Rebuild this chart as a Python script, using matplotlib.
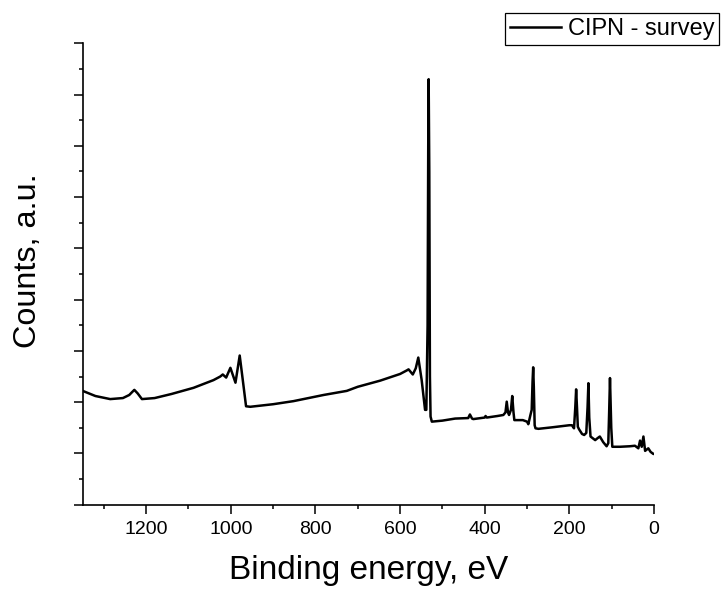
import matplotlib
matplotlib.use("Agg")
import matplotlib.pyplot as plt
from matplotlib.ticker import MultipleLocator, NullFormatter

plt.rcParams['font.family'] = ['Liberation Sans', 'DejaVu Sans']

# Binding energy (eV) and counts (a.u.)
energy = [1350, 1320, 1285, 1255, 1240, 1228, 1220, 1210, 1180, 1140, 1088, 1041,
          1025, 1019, 1011, 1001, 989, 979, 972, 964, 954, 900, 852, 781, 726, 700, 647,
          600, 584, 580, 570, 563, 557, 549, 541, 538, 535, 533.5, 532.5, 531, 529.5,
          528, 525, 500, 470, 439, 435, 430, 427, 400, 398, 395, 370, 356, 351, 348,
          345, 342.5, 338, 335, 332, 330, 310, 300, 297, 292, 289, 287, 285.5, 284,
          282, 280, 273, 240, 200, 194, 189, 186, 184, 182, 180, 177, 170, 165, 160,
          157, 155, 153, 150, 139, 133, 128, 120, 112, 108, 106, 104, 101, 98.5, 80,
          57, 45, 37, 33, 29, 25, 21, 13.5, 8, 1.5, 0]
counts = [2.22, 2.12, 2.06, 2.08, 2.14, 2.24, 2.17, 2.06, 2.08, 2.16, 2.28, 2.43,
          2.50, 2.54, 2.48, 2.67, 2.38, 2.91, 2.45, 1.92, 1.91, 1.96, 2.02, 2.14, 2.22, 2.30, 2.42,
          2.55, 2.62, 2.64, 2.54, 2.66, 2.87, 2.43, 1.85, 1.85, 3.5, 7.0, 8.30, 6.5, 2.5,
          1.72, 1.62, 1.64, 1.68, 1.69, 1.76, 1.68, 1.67, 1.70, 1.73, 1.70, 1.73, 1.75, 1.80, 2.01,
          1.80, 1.75, 1.85, 2.12, 1.80, 1.65, 1.65, 1.62, 1.57, 1.75, 1.85, 2.40, 2.68, 2.30,
          1.55, 1.49, 1.48, 1.51, 1.55, 1.55, 1.49, 1.90, 2.25, 1.90, 1.52, 1.47, 1.38, 1.36, 1.40,
          1.90, 2.37, 1.70, 1.33, 1.26, 1.30, 1.33, 1.22, 1.14, 1.20, 1.80, 2.47, 1.50, 1.13, 1.13,
          1.14, 1.15, 1.10, 1.25, 1.13, 1.33, 1.05, 1.10, 1.03, 0.99, 0.99]

series_label = "CIPN - survey"
x_label = "Binding energy, eV"
y_label = "Counts, a.u."

fig = plt.figure(figsize=(7.21, 5.92), dpi=100)
ax = fig.add_axes([82.7/721, 1 - 504.7/592, (654 - 82.7)/721, (504.7 - 43.3)/592])

ax.plot(energy, counts, color='black', lw=1.8, label=series_label)

ax.set_xlim(1350, 0)
ax.set_ylim(0, 9)

ax.xaxis.set_major_locator(MultipleLocator(200))
ax.xaxis.set_minor_locator(MultipleLocator(100))
ax.yaxis.set_major_locator(MultipleLocator(1))
ax.yaxis.set_minor_locator(MultipleLocator(0.5))
ax.yaxis.set_major_formatter(NullFormatter())

for s in ['top', 'right']:
    ax.spines[s].set_visible(False)
for s in ['left', 'bottom']:
    ax.spines[s].set_linewidth(1.2)

ax.tick_params(which='major', direction='out', length=6.5, width=1.1,
               labelsize=14, pad=5.5)
ax.tick_params(which='minor', direction='out', length=3.2, width=1.1)

ax.set_xlabel(x_label, fontsize=24)
ax.set_ylabel(y_label, fontsize=23.3)
ax.xaxis.set_label_coords(0.5, -0.11)
ax.yaxis.set_label_coords(-0.07, 0.528)

leg = ax.legend(loc='upper right', bbox_to_anchor=(719/721, 1 - 13.3/592),
                bbox_transform=fig.transFigure, borderaxespad=0, fontsize=17,
                handlelength=2.15, handletextpad=0.3, borderpad=0.2,
                fancybox=False, framealpha=1, edgecolor='black')
leg.get_frame().set_linewidth(0.9)

fig.savefig("out.png", dpi=100)
